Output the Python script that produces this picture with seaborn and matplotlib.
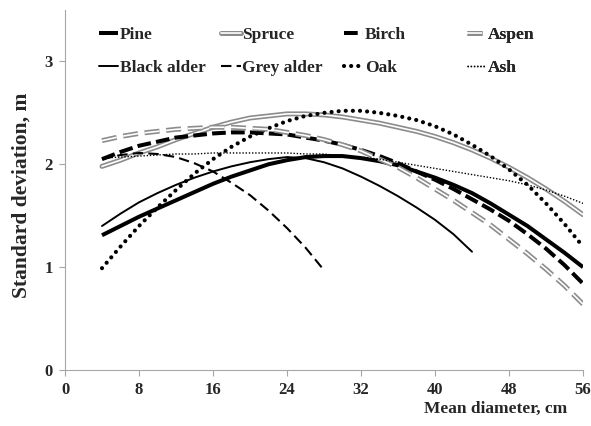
import matplotlib
matplotlib.use("Agg")
import matplotlib.pyplot as plt
import matplotlib.patheffects as pe
import seaborn as sns
import pandas as pd

# Standard deviation of tree height (m) against mean stand diameter (cm)
diam_full = [4, 6, 8, 10, 12, 14, 16, 18, 20, 22, 24, 26, 28, 30,
             32, 34, 36, 38, 40, 42, 44, 46, 48, 50, 52, 54, 56]
pine = [1.31, 1.40, 1.49, 1.57, 1.65, 1.73, 1.81, 1.88, 1.94, 2.00, 2.04, 2.07, 2.08, 2.08,
        2.06, 2.03, 1.99, 1.93, 1.87, 1.80, 1.72, 1.62, 1.51, 1.40, 1.27, 1.14, 1.00]
spruce = [1.98, 2.04, 2.11, 2.17, 2.24, 2.30, 2.36, 2.41, 2.45, 2.47, 2.49, 2.49, 2.48, 2.46,
          2.43, 2.40, 2.36, 2.32, 2.27, 2.21, 2.14, 2.06, 1.97, 1.87, 1.76, 1.64, 1.51]
birch = [2.05, 2.12, 2.18, 2.22, 2.26, 2.28, 2.30, 2.31, 2.31, 2.30, 2.29, 2.26, 2.23, 2.19,
         2.14, 2.08, 2.01, 1.93, 1.85, 1.76, 1.66, 1.56, 1.45, 1.32, 1.18, 1.02, 0.84]
aspen = [2.23, 2.27, 2.30, 2.32, 2.34, 2.35, 2.36, 2.36, 2.35, 2.34, 2.31, 2.28, 2.24, 2.19,
         2.13, 2.05, 1.97, 1.87, 1.76, 1.65, 1.53, 1.41, 1.27, 1.13, 0.98, 0.82, 0.64]
oak = [0.99, 1.20, 1.40, 1.58, 1.75, 1.91, 2.05, 2.17, 2.27, 2.35, 2.42, 2.47, 2.50, 2.52,
       2.52, 2.50, 2.47, 2.43, 2.37, 2.29, 2.19, 2.08, 1.95, 1.80, 1.62, 1.42, 1.20]
ash = [2.06, 2.07, 2.08, 2.09, 2.10, 2.10, 2.11, 2.11, 2.11, 2.11, 2.11, 2.10, 2.10, 2.08,
       2.07, 2.05, 2.02, 1.99, 1.96, 1.93, 1.90, 1.87, 1.84, 1.80, 1.75, 1.69, 1.62]

diam_black_alder = [4, 6, 8, 10, 12, 14, 16, 18, 20, 22, 24, 26, 28, 30,
                    32, 34, 36, 38, 40, 42, 44]
black_alder = [1.40, 1.52, 1.63, 1.72, 1.80, 1.87, 1.93, 1.98, 2.02, 2.05, 2.07, 2.06, 2.02, 1.96,
               1.88, 1.79, 1.69, 1.58, 1.46, 1.32, 1.15]

diam_grey_alder = [4, 6, 8, 10, 12, 14, 16, 18, 20, 22, 24, 26, 28]
grey_alder = [2.05, 2.09, 2.11, 2.10, 2.07, 2.01, 1.93, 1.82, 1.70, 1.55, 1.38, 1.19, 0.97]

x_ticks = [0, 8, 16, 24, 32, 40, 48, 56]
y_ticks = [0, 1, 2, 3]

sns.set_theme(style="white")
plt.rcParams["font.family"] = ["Liberation Serif", "DejaVu Serif"]
plt.rcParams["font.weight"] = "bold"

fig = plt.figure(figsize=(5.91, 4.26), dpi=100)
ax = fig.add_axes([65 / 591, (426 - 370) / 426, 518 / 591, 360 / 426])

GREY = "#8c8c8c"
double_solid = [pe.Stroke(linewidth=3.6, foreground=GREY), pe.Normal()]
double_dash = [pe.Stroke(linewidth=3.6, foreground=GREY), pe.Normal()]

series = [
    ("Pine", diam_full, pine, dict(color="black", lw=2.9, solid_capstyle="butt")),
    ("Black alder", diam_black_alder, black_alder, dict(color="black", lw=1.4)),
    ("Spruce", diam_full, spruce, dict(color="white", lw=1.2, path_effects=double_solid)),
    ("Grey alder", diam_grey_alder, grey_alder, dict(color="black", lw=1.5, linestyle=(0, (5, 2.5)))),
    ("Birch", diam_full, birch, dict(color="black", lw=2.9, linestyle=(0, (3.4, 1.3)))),
    ("Oak", diam_full, oak, dict(color="black", lw=3.0, linestyle=(0, (0.01, 1.7)), dash_capstyle="round")),
    ("Aspen", diam_full, aspen, dict(color="white", lw=1.2, linestyle=(0, (9, 4)), path_effects=double_dash)),
    ("Ash", diam_full, ash, dict(color="black", lw=1.0, linestyle=(0, (1, 1.3)))),
]

handles = {}
for name, xs, ys, style in series:
    df = pd.DataFrame({"diameter": xs, "sd": ys})
    sns.lineplot(data=df, x="diameter", y="sd", ax=ax, label=name, **style)
    handles[name] = ax.lines[-1]

ax.set_xlim(0, 56)
ax.set_ylim(0, 3.5)
ax.set_xticks(x_ticks)
ax.set_yticks(y_ticks)
ax.tick_params(axis="both", which="major", direction="out", length=4, width=0.8,
               color="#a6a6a6", labelsize=12, pad=5, bottom=True, left=True)
for lab in ax.get_xticklabels() + ax.get_yticklabels():
    lab.set_fontweight("bold")
for side in ("top", "right"):
    ax.spines[side].set_visible(False)
for side in ("left", "bottom"):
    ax.spines[side].set_color("#a6a6a6")
    ax.spines[side].set_linewidth(0.8)

ax.set_xlabel("Mean diameter, cm", fontsize=12.5, fontweight="bold")
ax.xaxis.set_label_coords(0.832, -0.085)
ax.set_ylabel("Standard deviation, m", fontsize=15.5, fontweight="bold")
ax.yaxis.set_label_coords(-0.064, 0.485)

# Legend: four columns of two entries each, evenly spaced along the top
ax.get_legend().remove()
columns = [("Pine", "Black alder"), ("Spruce", "Grey alder"), ("Birch", "Oak"), ("Aspen", "Ash")]
col_x = [0.066, 0.302, 0.539, 0.776]
for names, cx in zip(columns, col_x):
    leg = ax.legend([handles[n] for n in names], list(names), loc="upper left",
                    bbox_to_anchor=(cx, 0.953), frameon=False, borderpad=0, borderaxespad=0,
                    handlelength=1.1, handletextpad=0.1, labelspacing=0.98,
                    prop={"family": "Liberation Serif", "weight": "bold", "size": 12.5})
    ax.add_artist(leg)

fig.savefig("out.png", dpi=100)
